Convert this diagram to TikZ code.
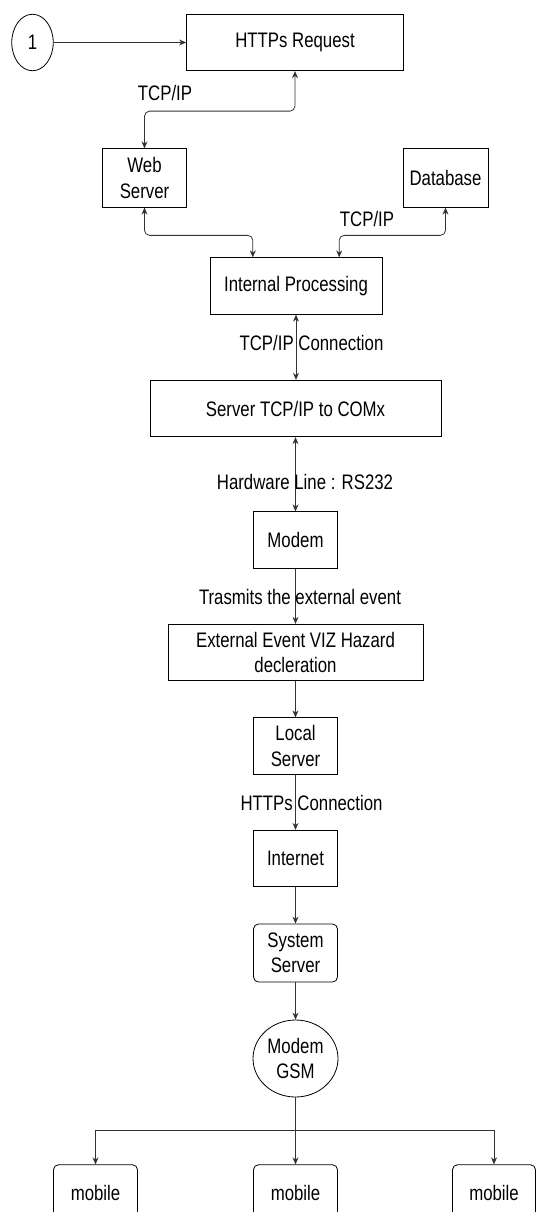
\documentclass[tikz,border=0pt]{standalone}
\usepackage{fontspec}
\setmainfont{Liberation Sans}[FakeStretch=0.8]
\usepackage{tikz}
\usetikzlibrary{shapes.geometric, arrows.meta, positioning, calc}

\begin{document}
\begin{tikzpicture}[x=1pt, y=-1pt,
    font=\fontsize{21}{25.5}\selectfont,
    >={Stealth[length=7pt, width=6pt]},
    box/.style={draw, thick, inner sep=0pt, align=center, minimum height=56.5},
    rbox/.style={box, rounded corners=5pt},
    oval/.style={draw, thick, ellipse, inner sep=0pt, align=center},
    link/.style={draw=black!80, thick},
    elbow/.style={link, rounded corners=5pt},
    lbl/.style={inner sep=1pt}]

        \useasboundingbox (0,0) rectangle (536,1212);
        \clip (0,0) rectangle (536,1212);

        % Request side
        \node[oval, minimum width=41.5, minimum height=56.5] (one) at (32.5,42.5) {1};
        \node[box, minimum width=217] (req) at (295,42.5) {HTTPs Request};
        \node[box, minimum width=83.5, minimum height=58.5] (web) at (144.5,178) {Web\\Server};
        \node[box, minimum width=85, minimum height=58.5] (db) at (445.5,178) {Database};
        \node[box, minimum width=172] (proc) at (296,286) {Internal Processing};

        % Serial chain
        \node[box, minimum width=291] (srv) at (295.5,408.5) {Server TCP/IP to COMx};
        \node[box, minimum width=84] (modem) at (295.5,540) {Modem};
        \node[box, minimum width=255] (ext) at (295.5,652.5) {External Event VIZ Hazard\\decleration};
        \node[box, minimum width=84] (local) at (295.5,746) {Local\\Server};
        \node[box, minimum width=84] (inet) at (295.5,858.5) {Internet};
        \node[rbox, minimum width=84, minimum height=58] (sys) at (295.5,953) {System\\Server};
        \node[oval, minimum width=85, minimum height=77] (gsm) at (295.5,1058.5) {Modem\\GSM};

        % Phones
        \node[rbox, minimum width=84] (mobA) at (95.5,1193) {mobile};
        \node[rbox, minimum width=84] (mobB) at (295.5,1193) {mobile};
        \node[rbox, minimum width=83] (mobC) at (494,1193) {mobile};

        % Entry points on the processing box
        \coordinate (procL) at ($(proc.north west)!0.25!(proc.north east)$);
        \coordinate (procR) at ($(proc.north west)!0.75!(proc.north east)$);

        % Connectors
        \draw[link, ->] (one) -- (req);
        \draw[elbow, <->] (web.north) |- ($(req.south)+(0,40)$) -- (req.south);
        \draw[elbow, <->] (web.south) |- ($(procL)+(0,-22)$) -- (procL);
        \draw[elbow, <->] (db.south) |- ($(procR)+(0,-22)$) -- (procR);
        \draw[link, <->] (proc) -- (proc |- srv.north);
        \draw[link, <->] (srv) -- (modem);
        \draw[link, ->] (modem) -- (ext);
        \draw[link, ->] (ext) -- (local);
        \draw[link, ->] (local) -- (inet);
        \draw[link, ->] (inet) -- (sys);
        \draw[link, ->] (sys) -- (gsm);
        \draw[link, ->] (gsm) -- (mobB);
        \draw[link, ->] (gsm.south) |- ($(mobA.north)+(0,-34)$) -- (mobA.north);
        \draw[link, ->] (gsm.south) |- ($(mobC.north)+(0,-34)$) -- (mobC.north);

        % Link labels
        \node[lbl] (tcpA) at (165,93) {TCP/IP};
        \node[lbl] (tcpB) at (367,219) {TCP/IP};
        \node[lbl] (tcpC) at (311.5,343) {TCP/IP Connection};
        \node[lbl] (rs) at (305,481.5) {Hardware Line : RS232};
        \node[lbl] (evt) at (300,597) {Trasmits the external event};
        \node[lbl] (https) at (311.5,802.5) {HTTPs Connection};

    \end{tikzpicture}
\end{document}
